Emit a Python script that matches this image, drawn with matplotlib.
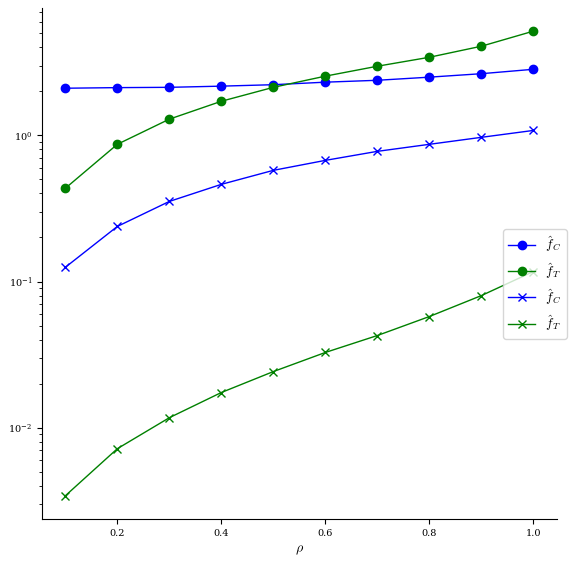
import numpy as np
import matplotlib
matplotlib.use('Agg')
import matplotlib.pyplot as plt

plt.rcParams['font.family'] = 'serif'
plt.rcParams['font.serif'] = ['DejaVu Serif']
plt.rcParams['mathtext.fontset'] = 'cm'

rho = [0.1, 0.2, 0.3, 0.4, 0.5, 0.6, 0.7, 0.8, 0.9, 1.0]

# circles
fC_dot = [2.10, 2.12, 2.13, 2.17, 2.22, 2.31, 2.38, 2.50, 2.64, 2.83]
fT_dot = [0.434, 0.868, 1.29, 1.71, 2.13, 2.54, 2.97, 3.42, 4.07, 5.16]
# crosses
fC_x = [0.125, 0.238, 0.353, 0.462, 0.576, 0.674, 0.777, 0.868, 0.969, 1.08]
fT_x = [0.00342, 0.00718, 0.0117, 0.0174, 0.0242, 0.0327, 0.0427, 0.0576, 0.0801, 0.117]

fig, ax = plt.subplots(figsize=(5.74, 5.66), dpi=100)
ax.plot(rho, fC_dot, color='blue', marker='o', lw=1, ms=6, label=r'$\hat{f}_C$')
ax.plot(rho, fT_dot, color='green', marker='o', lw=1, ms=6, label=r'$\hat{f}_T$')
ax.plot(rho, fC_x, color='blue', marker='x', lw=1, ms=6, label=r'$\hat{f}_C$')
ax.plot(rho, fT_x, color='green', marker='x', lw=1, ms=6, label=r'$\hat{f}_T$')

ax.set_yscale('log')
ax.set_xlabel(r'$\rho$', fontsize=10)
ax.tick_params(labelsize=7)
ax.spines['top'].set_visible(False)
ax.spines['right'].set_visible(False)
ax.legend(loc='center left', bbox_to_anchor=(0.883, 0.46), fontsize=9.5)

fig.subplots_adjust(left=0.073, right=0.97, top=0.986, bottom=0.083)
fig.savefig('out.png', dpi=100)
